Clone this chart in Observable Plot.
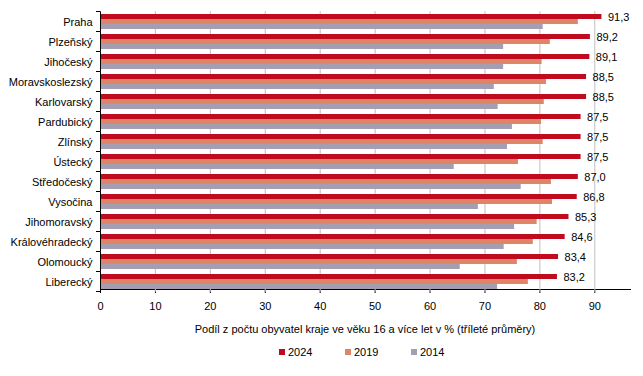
<!DOCTYPE html>
<html><head><meta charset="utf-8">
<script src="https://cdn.jsdelivr.net/npm/d3@7"></script>
<script src="https://cdn.jsdelivr.net/npm/@observablehq/plot@0.6"></script>
<style>
body{margin:0;background:#fff;font-family:"Liberation Sans",Arial,sans-serif;color:#000;}
#chart{width:643px;}
#chart svg{display:block;}
.caption{font-size:11px;line-height:14px;margin-top:6px;padding-left:100px;width:530px;text-align:center;}
.legend{font-size:11px;line-height:14px;margin-top:9px;padding-left:279px;display:flex;}
.legend .item{width:66px;display:flex;align-items:center;}
.legend .sw{width:6px;height:6px;margin-right:3px;display:inline-block;}
</style></head><body>
<div id="chart"></div>
<div class="caption">Podíl z počtu obyvatel kraje ve věku 16 a více let v % (tříleté průměry)</div>
<div class="legend" id="legend"></div>
<script>
const regions = ["Praha","Plzeňský","Jihočeský","Moravskoslezský","Karlovarský","Pardubický","Zlínský","Ústecký","Středočeský","Vysočina","Jihomoravský","Královéhradecký","Olomoucký","Liberecký"];
const v2024 = [91.3,89.2,89.1,88.5,88.5,87.5,87.5,87.5,87.0,86.8,85.3,84.6,83.4,83.2];
const v2019 = [87.0,81.9,80.4,81.2,80.8,80.3,80.6,76.1,82.1,82.3,79.5,78.8,75.9,77.9];
const v2014 = [80.6,73.4,73.4,71.7,72.4,75.0,74.1,64.4,76.6,68.8,75.4,73.5,65.5,72.3];
const series = ["2024","2019","2014"];
const colors = ["#C00A1E","#DE8568","#A59EB3"];
const xTicks = [0,10,20,30,40,50,60,70,80,90];

const valuesBySeries = {"2024": v2024, "2019": v2019, "2014": v2014};
const data = regions.flatMap((r,i) => series.map(s => ({region:r, year:s, value:valuesBySeries[s][i]})));
const fmt = v => v.toFixed(1).replace(".", ",");

const plot = Plot.plot({
  width:643, height:316,
  marginTop:9, marginBottom:23, marginLeft:100, marginRight:13,
  style:{fontFamily:"'Liberation Sans', Arial, sans-serif", fontSize:"11px", color:"#000", background:"#fff"},
  x:{domain:[0,96.5], ticks:xTicks, tickSize:4, tickPadding:9, label:null, line:true},
  y:{domain:series, padding:0, axis:null},
  fy:{domain:regions, paddingInner:0.26, paddingOuter:0.13, label:null, axis:"left", tickSize:0, tickPadding:8},
  color:{domain:series, range:colors},
  marks:[
    Plot.ruleX(xTicks.slice(1), {stroke:"#bfbfbf", insetTop:-2.7, insetBottom:-2.7}),
    Plot.barX(data, {x:"value", y:"year", fy:"region", fill:"year"}),
    Plot.text(data.filter(d => d.year === "2024"), {x:"value", y:"year", fy:"region", text:d => fmt(d.value), textAnchor:"start", dx:6, fill:"#000"}),
    Plot.ruleX([0], {stroke:"#000", insetTop:-2.7, insetBottom:-2.7})
  ]
});
document.getElementById("chart").appendChild(plot);

// category boundary tick marks on the left axis, from the fy scale
const fy = plot.scale("fy");
const x = plot.scale("x");
const x0 = x.apply(0);
const gap = fy.step - fy.bandwidth;
const first = fy.apply(regions[0]) - gap / 2;
const g = d3.select(plot).append("g").attr("stroke", "#000");
for (let i = 0; i <= regions.length; i++) {
  const yy = first + i * fy.step;
  g.append("line").attr("x1", x0 - 4).attr("x2", x0).attr("y1", yy).attr("y2", yy);
}

const legend = document.getElementById("legend");
series.forEach((s,i) => {
  const it = document.createElement("div");
  it.className = "item";
  it.innerHTML = `<span class="sw" style="background:${colors[i]}"></span><span>${s}</span>`;
  legend.appendChild(it);
});
</script>
</body></html>
